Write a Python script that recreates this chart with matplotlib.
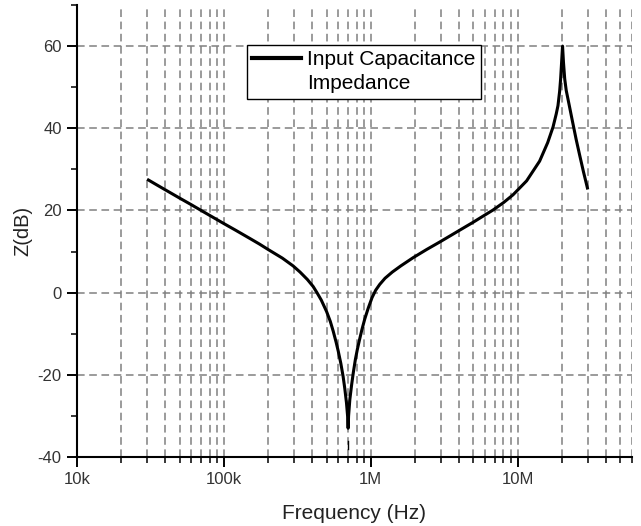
import matplotlib
matplotlib.use('Agg')
import matplotlib.pyplot as plt
from matplotlib.lines import Line2D
from matplotlib.ticker import FixedLocator, LogLocator, MultipleLocator, NullFormatter

plt.rcParams['font.family'] = ['Liberation Sans', 'DejaVu Sans']
plt.rcParams['axes.unicode_minus'] = False

# curve (frequency in Hz, impedance in dB)
freq_hz = [30e3, 35e3, 40e3, 50e3, 60e3, 70e3, 80e3, 100e3, 120e3, 150e3,
           175e3, 200e3, 250e3, 296e3, 330e3, 370e3, 405e3, 430e3, 460e3,
           500e3, 530e3, 555e3, 580e3, 600e3, 625e3, 648e3, 665e3, 683e3,
           695e3, 701e3,
           706e3, 720e3, 740e3, 760e3, 785e3, 810e3, 840e3, 870e3, 910e3,
           960e3, 1.02e6, 1.08e6, 1.15e6, 1.25e6, 1.4e6, 1.6e6, 1.94e6,
           2.4e6, 2.94e6, 3.5e6, 4.03e6, 4.96e6, 5.8e6, 6.79e6, 8.0e6,
           9.29e6, 11.5e6, 14.1e6, 16.0e6, 17.4e6, 18.3e6, 18.8e6, 19.3e6,
           19.6e6, 19.9e6, 20.2e6, 20.5e6, 20.9e6, 21.4e6, 22.0e6, 23.5e6,
           25.0e6, 26.4e6, 28.0e6, 30.0e6]
z_db = [27.6, 26.2, 25.0, 23.0, 21.4, 20.0, 18.8, 16.8, 15.2, 13.2,
        11.8, 10.5, 8.4, 6.5, 5.0, 3.2, 1.5, 0.0, -1.8,
        -4.6, -7.0, -9.4, -12.0, -14.2, -17.2, -20.4, -23.3, -26.8,
        -30.0, -33.0,
        -30.0, -26.0, -22.5, -19.5, -16.3, -13.8, -11.3, -9.0, -6.4,
        -3.8, -1.2, 0.6, 2.0, 3.5, 5.0, 6.5, 8.5,
        10.5, 12.3, 13.9, 15.2, 17.1, 18.6, 20.1, 21.9,
        23.8, 27.2, 32.0, 36.5, 40.3, 43.5, 45.5, 49.0,
        52.0, 56.0, 60.0, 56.0, 52.0, 49.2, 47.1, 42.0,
        37.3, 33.5, 29.5, 25.1]

# little detached stub under the dip
stub_hz = [700e3, 700e3]
stub_db = [-36.0, -38.0]

x_ticks = [1e4, 1e5, 1e6, 1e7]
x_labels = ['10k', '100k', '1M', '10M']
y_ticks = [-40, -20, 0, 20, 40, 60]

fig = plt.figure(figsize=(6.41, 5.26), dpi=100)
ax = fig.add_axes([77 / 641, 1 - 457 / 526, 555 / 641, 452 / 526])

ax.plot(freq_hz, z_db, color='black', linewidth=2.2, zorder=3,
        solid_joinstyle='round', solid_capstyle='butt')
ax.plot(stub_hz, stub_db, color='black', linewidth=1.0, zorder=3)

ax.set_xscale('log')
ax.set_xlim(1e4, 6e7)
ax.set_ylim(-40, 70)

ax.xaxis.set_major_locator(FixedLocator(x_ticks))
ax.set_xticklabels(x_labels)
ax.xaxis.set_minor_locator(LogLocator(base=10, subs=range(2, 10)))
ax.xaxis.set_minor_formatter(NullFormatter())
ax.set_yticks(y_ticks)
ax.yaxis.set_minor_locator(MultipleLocator(10))

grid_kw = dict(color='#808080', linewidth=1.1, linestyle=(0, (5, 3)))
ax.grid(which='both', axis='x', **grid_kw)
ax.grid(which='major', axis='y', **grid_kw)
ax.set_axisbelow(True)

for side in ['top', 'right']:
    ax.spines[side].set_visible(False)
for side in ['left', 'bottom']:
    ax.spines[side].set_linewidth(1.5)
    ax.spines[side].set_color('black')

ax.tick_params(which='major', direction='out', length=7, width=1.4,
               labelsize=12, labelcolor='#333333', pad=4)
ax.tick_params(which='minor', direction='out', length=4, width=1.1)

ax.set_xlabel('Frequency (Hz)', fontsize=15, color='#222222', labelpad=12)
ax.set_ylabel('Z(dB)', fontsize=14.5, color='#222222', labelpad=4)

handles = [Line2D([], [], color='black', linewidth=3),
           Line2D([], [], color='none')]
leg = ax.legend(handles, ['Input Capacitance', 'Impedance'],
                loc='upper left', bbox_to_anchor=(0.306, 0.9115),
                borderaxespad=0, fontsize=15, frameon=True, fancybox=False,
                framealpha=1, edgecolor='black', handlelength=2.35,
                handletextpad=0.3, borderpad=0.25, labelspacing=0.25)
leg.get_frame().set_linewidth(1.0)

fig.savefig('out.png', dpi=100)
